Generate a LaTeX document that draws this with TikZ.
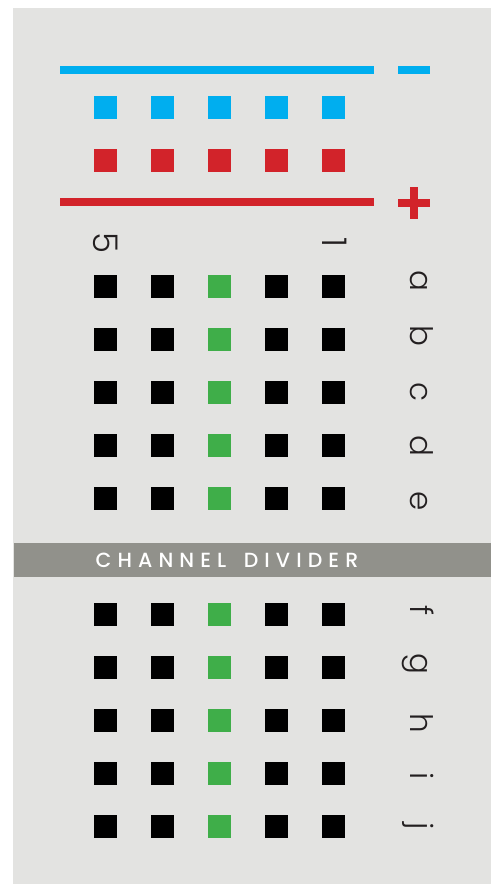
\documentclass[tikz,border=0pt]{standalone}
\usepackage{fontspec}
\setmainfont{Poppins}
\newfontfamily\lblfont{Poppins Light}
\newfontfamily\divfont{Poppins Medium}
\definecolor{bg}{HTML}{E3E3E1}
\definecolor{pblue}{HTML}{00AEEF}
\definecolor{pred}{HTML}{D2232A}
\definecolor{pgreen}{HTML}{3FAE49}
\definecolor{divgray}{HTML}{91918B}
\definecolor{ink}{HTML}{231F20}
\newcommand{\lsp}{\kern6.1pt}
\begin{document}
\begin{tikzpicture}[x=1pt,y=-1pt,
  sq/.style={rectangle,minimum size=23pt,inner sep=0pt,outer sep=0pt,draw=none,anchor=north west},
  bar/.style={rectangle,inner sep=0pt,outer sep=0pt,draw=none,anchor=north west},
  lbl/.style={font=\lblfont\fontsize{31}{31}\selectfont,rotate=-90,anchor=base,inner sep=0pt,text=ink},
  numlbl/.style={lbl,font=\lblfont\fontsize{34}{34}\selectfont}]
\useasboundingbox (0,0) rectangle (491,884);
\fill[white] (0,0) rectangle (491,884);
\fill[bg] (13,8) rectangle (491,884);
% power rails
\node[bar,fill=pblue,minimum width=313.5pt,minimum height=8pt] (blueline) at (60,65.7) {};
\node[bar,fill=pblue,minimum width=32pt,minimum height=8pt] (minus) at (398,65.7) {};
\node[bar,fill=pred,minimum width=313.5pt,minimum height=8pt] (redline) at (60,198.3) {};
\node[bar,fill=pred,minimum width=32pt,minimum height=8pt] (plush) at (398,198.5) {};
\node[bar,fill=pred,minimum width=8pt,minimum height=32pt] (plusv) at (410,186.7) {};
\foreach \c [count=\i] in {94,151,208,265,322}{
  \node[sq,fill=pblue] (b\i) at (\c,96) {};
  \node[sq,fill=pred] (r\i) at (\c,149) {};
}
% main grid
\foreach \r/\y in {a/275,b/328,c/381,d/434,e/487,f/603,g/656,h/709,i/762,j/815}{
  \foreach \c [count=\i] in {94,151,208,265,322}{
    \ifnum\i=3
      \node[sq,fill=pgreen] (\r\i) at (\c,\y) {};
    \else
      \node[sq,fill=black] (\r\i) at (\c,\y) {};
    \fi
  }
}
% column numbers
\node[numlbl] (n5) at (93.3,242.5) {5};
\node[numlbl] (n1) at (322.7,242) {1};
% row letters
\foreach \r/\y in {a/281.3,b/336,c/391.7,d/446,e/500.8,f/611,g/664.2,h/723.3,i/776.5,j/826}{
  \node[lbl] (l\r) at (410,\y) {\r};
}
% channel divider
\node[bar,fill=divgray,minimum width=477pt,minimum height=34pt] (divider) at (14,542.7) {};
\node[font=\divfont\fontsize{20.5}{20.5}\selectfont,text=white,inner sep=0pt] (divtext) at (227,560)
  {C\lsp H\lsp A\lsp N\lsp N\lsp E\lsp L\lsp\ \lsp D\lsp I\lsp V\lsp I\lsp D\lsp E\lsp R};
\end{tikzpicture}
\end{document}
